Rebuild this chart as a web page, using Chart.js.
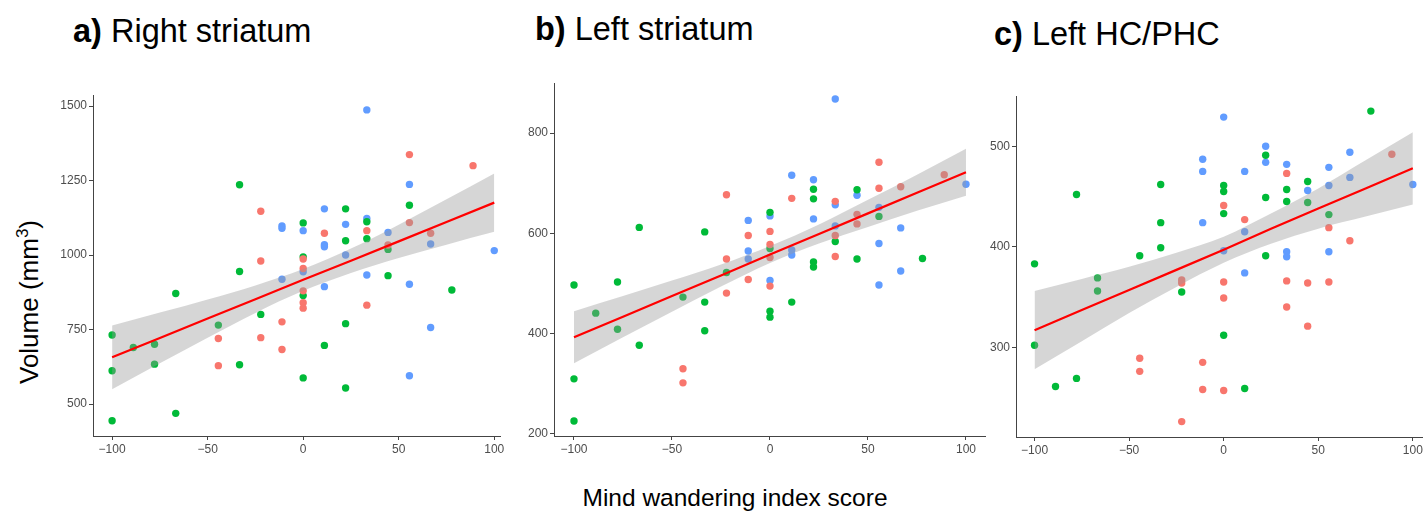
<!DOCTYPE html>
<html>
<head>
<meta charset="utf-8">
<script src="https://cdn.jsdelivr.net/npm/chart.js@4/dist/chart.umd.min.js"></script>
<style>
  body { margin: 0; background: #fff; font-family: "Liberation Sans", Arial, sans-serif; }
  #wrap { position: relative; width: 1426px; height: 511px; overflow: hidden; }
  .box { position: absolute; }
  .title { position: absolute; font-size: 32.5px; line-height: 32px; color: #000; white-space: nowrap; }
  .title b { font-weight: bold; }
  #ylab { position: absolute; left: 26px; top: 302px; font-size: 26px; line-height: 26px; white-space: nowrap;
          transform: translate(-50%, -50%) rotate(-90deg); }
  #xlab { position: absolute; left: 735px; top: 485px; font-size: 24.5px; line-height: 25px; white-space: nowrap;
          transform: translateX(-50%); }
</style>
</head>
<body>
<div id="wrap">
  <div class="title" style="left:73px; top:15px;"><b>a)</b> Right striatum</div>
  <div class="title" style="left:535px; top:13px;"><b>b)</b> Left striatum</div>
  <div class="title" style="left:994px; top:18px;"><b>c)</b> Left HC/PHC</div>
  <div id="ylab">Volume (mm<sup style="font-size:17px;">3</sup>)</div>
  <div id="xlab">Mind wandering index score</div>
  <div class="box" style="left:40px; top:80px; width:470px; height:400px;"><canvas id="chartA"></canvas></div>
  <div class="box" style="left:510px; top:70px; width:485px; height:410px;"><canvas id="chartB"></canvas></div>
  <div class="box" style="left:970px; top:80px; width:456px; height:400px;"><canvas id="chartC"></canvas></div>
</div>
<script>
// mind wandering scores on x, volumes on y
const xTicks = [-100, -50, 0, 50, 100];
const fitX = [-100, -75, -50, -25, 0, 25, 50, 75, 100];

// a) Right striatum
const aYTicks = [500, 750, 1000, 1250, 1500];
const aRedX = [88.9, 55.6, 55.6, 66.7, 44.4, 33.3, 33.3, 11.1, -22.2, -22.2, -22.2, -11.1, -11.1, -44.4, -44.4, 0, 0, 0, 0, 0];
const aRedY = [1300, 1337, 1109, 1073, 1034, 1082, 832, 1073, 1147, 980, 723, 776, 683, 720, 629, 987, 955, 880, 840, 822];
const aGreenX = [-33.3, 22.2, 55.6, 0, 33.3, 22.2, 33.3, 44.4, 0, -33.3, 44.4, 77.8, 0, -66.7, -22.2, -44.4, 22.2, -100, -88.9, -77.8, -77.8, -33.3, -100, 11.1, 0, 22.2, -66.7, -100];
const aGreenY = [1236, 1155, 1167, 1108, 1112, 1048, 1055, 1019, 994, 945, 931, 883, 864, 871, 801, 765, 770, 732, 690, 701, 634, 632, 612, 697, 588, 554, 469, 444];
const aBlueX = [33.3, 55.6, 11.1, 33.3, -11.1, -11.1, 0, 22.2, 44.4, 11.1, 11.1, 22.2, 66.7, 100, 0, -11.1, 11.1, 33.3, 55.6, 66.7, 55.6];
const aBlueY = [1487, 1237, 1155, 1123, 1098, 1090, 1082, 1103, 1076, 1035, 1028, 1000, 1037, 1015, 944, 919, 894, 933, 902, 757, 595];
const aFitY = [657, 722, 787, 852, 917, 981, 1046, 1111, 1176];
const aLowY = [550, 637, 723, 806, 880, 940, 990, 1035, 1078];
const aHighY = [764, 807, 851, 898, 953, 1022, 1102, 1187, 1274];

// b) Left striatum
const bYTicks = [200, 400, 600, 800];
const bRedX = [55.6, 88.9, 66.7, 55.6, -22.2, 11.1, 33.3, 44.4, 44.4, 0, -11.1, 33.3, 0, 0, 33.3, -22.2, -11.1, 0, -22.2, -44.4, -44.4];
const bRedY = [742, 717, 693, 690, 677, 670, 664, 638, 619, 604, 596, 596, 578, 552, 554, 549, 508, 495, 481, 330, 302];
const bGreenX = [22.2, 44.4, 22.2, 0, -66.7, -33.3, 55.6, 33.3, 0, 22.2, 22.2, 44.4, 77.8, -22.2, -100, -77.8, -44.4, -33.3, 11.1, -88.9, 0, 0, -77.8, -33.3, -66.7, -100, -100];
const bGreenY = [688, 687, 669, 642, 612, 603, 634, 584, 570, 543, 533, 549, 550, 522, 497, 503, 473, 463, 463, 441, 445, 433, 409, 406, 377, 310, 226];
const bBlueX = [33.3, 11.1, 22.2, 44.4, 33.3, -11.1, 0, 22.2, 55.6, 100, 66.7, 33.3, 55.6, -11.1, -11.1, 11.1, 11.1, 0, 55.6, 66.7];
const bBlueY = [868, 716, 707, 676, 657, 626, 635, 629, 652, 698, 611, 615, 580, 565, 549, 567, 557, 506, 497, 525];
const bFitY = [393, 434, 475, 516, 558, 599, 640, 681, 722];
const bLowY = [341, 393, 444, 494, 541, 580, 613, 645, 675];
const bHighY = [445, 475, 506, 538, 575, 618, 667, 717, 769];

// c) Left HC/PHC
const cYTicks = [300, 400, 500];
const cRedX = [88.9, 33.3, 0, 11.1, 55.6, 66.7, -22.2, -22.2, 0, 33.3, 44.4, 55.6, 0, 33.3, 44.4, -44.4, -44.4, -11.1, -11.1, 0, -22.2];
const cRedY = [492, 473, 441, 427, 419, 406, 367, 364, 365, 366, 364, 365, 349, 340, 321, 289, 276, 285, 258, 257, 226];
const cGreenX = [77.8, 22.2, 0, 0, -33.3, -77.8, 33.3, 44.4, 22.2, 33.3, 44.4, 0, 55.6, -33.3, -33.3, -44.4, 22.2, -100, -66.7, -66.7, -22.2, 0, -100, -77.8, -88.9, 11.1];
const cGreenY = [535, 491, 461, 455, 462, 452, 457, 465, 449, 445, 444, 433, 432, 424, 399, 391, 391, 383, 369, 356, 355, 312, 302, 269, 261, 259];
const cBlueX = [0, 22.2, 22.2, -11.1, -11.1, 11.1, 33.3, 66.7, 55.6, 55.6, 66.7, 44.4, 100, -11.1, 11.1, 0, 33.3, 33.3, 55.6, 11.1];
const cBlueY = [529, 500, 484, 487, 475, 475, 482, 494, 479, 461, 469, 456, 462, 424, 415, 396, 395, 390, 395, 374];
const cFitY = [317, 337, 357, 377, 397, 418, 438, 458, 478];
const cLowY = [278, 306, 334, 360, 384, 403, 418, 430, 442];
const cHighY = [356, 368, 380, 394, 410, 433, 458, 486, 514];

const RED = '#F8766D', GREEN = '#00BA38', BLUE = '#619CFF';
const AXIS = '#444';
const TICKTXT = '#4D4D4D';

function pts(xs, ys) {
  return xs.map((x, i) => ({ x: x, y: ys[i] }));
}

function dots(xs, ys, color) {
  return {
    data: pts(xs, ys), backgroundColor: color, borderWidth: 0,
    pointRadius: 3.7, pointHoverRadius: 3.7, showLine: false, order: 3
  };
}

function makePanel(id, p) {
  const ctx = document.getElementById(id);
  new Chart(ctx, {
    type: 'scatter',
    data: {
      datasets: [
        dots(p.redX, p.redY, RED),
        dots(p.greenX, p.greenY, GREEN),
        dots(p.blueX, p.blueY, BLUE),
        { data: pts(fitX, p.low), showLine: true, pointRadius: 0, borderWidth: 0,
          borderColor: 'rgba(0,0,0,0)', fill: false, cubicInterpolationMode: 'monotone', order: 2 },
        { data: pts(fitX, p.high), showLine: true, pointRadius: 0, borderWidth: 0,
          borderColor: 'rgba(0,0,0,0)', backgroundColor: 'rgba(153,153,153,0.4)',
          fill: '-1', cubicInterpolationMode: 'monotone', order: 2 },
        { data: pts(fitX, p.fit), showLine: true, pointRadius: 0, borderWidth: 2.2,
          borderColor: '#FF0000', fill: false, order: 1 }
      ]
    },
    options: {
      responsive: true,
      maintainAspectRatio: false,
      animation: false,
      events: [],
      layout: { padding: { top: p.padTop, right: p.padRight, left: 0, bottom: 0 } },
      plugins: { legend: { display: false }, tooltip: { enabled: false } },
      scales: {
        x: {
          type: 'linear', min: p.xMin, max: p.xMax,
          afterBuildTicks: s => { s.ticks = xTicks.map(v => ({ value: v })); },
          afterFit: s => { s.height = p.xH; },
          grid: { display: true, drawOnChartArea: false, drawTicks: true, tickLength: 4, color: AXIS, lineWidth: 1 },
          border: { display: true, color: AXIS, width: 1 },
          ticks: { color: TICKTXT, font: { family: 'Liberation Sans', size: 12 }, padding: 2,
                   maxRotation: 0, callback: v => String(v).replace('-', '\u2212') }
        },
        y: {
          type: 'linear', min: p.yMin, max: p.yMax,
          afterBuildTicks: s => { s.ticks = p.yTicks.map(v => ({ value: v })); },
          afterFit: s => { s.width = p.yW; },
          grid: { display: true, drawOnChartArea: false, drawTicks: true, tickLength: 4, color: AXIS, lineWidth: 1 },
          border: { display: true, color: AXIS, width: 1 },
          ticks: { color: TICKTXT, font: { family: 'Liberation Sans', size: 12 }, padding: 2,
                   callback: v => String(v) }
        }
      }
    }
  });
}

makePanel('chartA', {
  redX: aRedX, redY: aRedY, greenX: aGreenX, greenY: aGreenY, blueX: aBlueX, blueY: aBlueY,
  fit: aFitY, low: aLowY, high: aHighY, yTicks: aYTicks,
  xMin: -110, xMax: 103, yMin: 393, yMax: 1537,
  yW: 53, xH: 44, padTop: 15, padRight: 10
});
makePanel('chartB', {
  redX: bRedX, redY: bRedY, greenX: bGreenX, greenY: bGreenY, blueX: bBlueX, blueY: bBlueY,
  fit: bFitY, low: bLowY, high: bHighY, yTicks: bYTicks,
  xMin: -110.2, xMax: 109.7, yMin: 196, yMax: 900,
  yW: 44, xH: 44, padTop: 13, padRight: 10
});
makePanel('chartC', {
  redX: cRedX, redY: cRedY, greenX: cGreenX, greenY: cGreenY, blueX: cBlueX, blueY: cBlueY,
  fit: cFitY, low: cLowY, high: cHighY, yTicks: cYTicks,
  xMin: -109.8, xMax: 105, yMin: 210.7, yMax: 550,
  yW: 46, xH: 43, padTop: 16, padRight: 2
});
</script>
</body>
</html>
